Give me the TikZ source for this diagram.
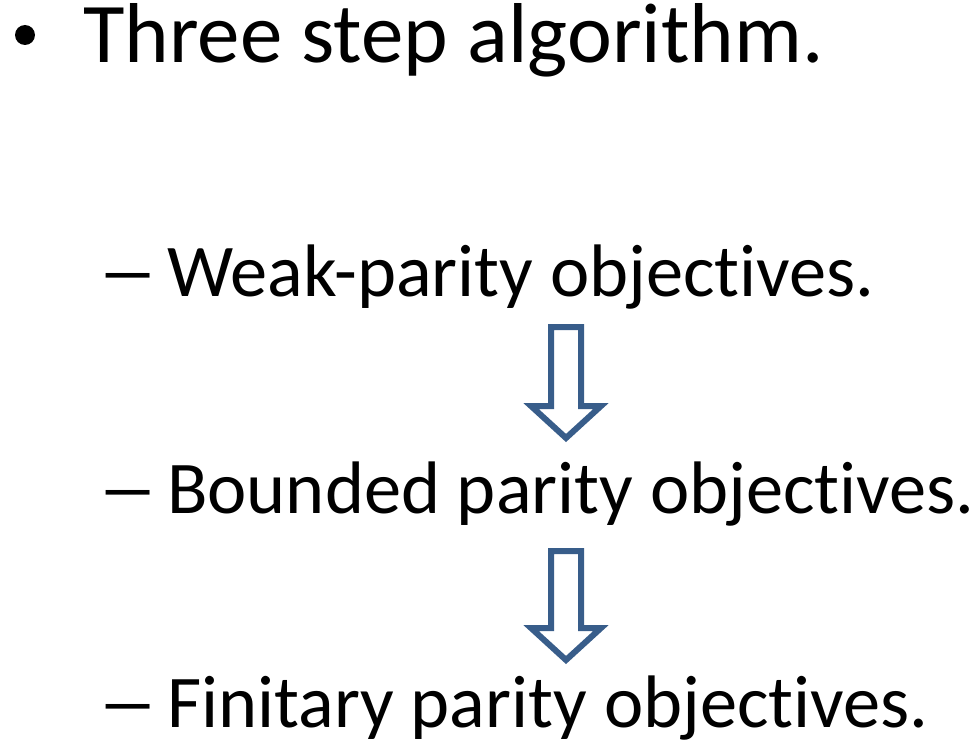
\documentclass[tikz,border=0pt]{standalone}
\usepackage{fontspec}
\setmainfont[Ligatures=NoCommon]{Carlito}
\definecolor{arrowblue}{HTML}{385D8A}
\tikzset{
	title/.style={anchor=base west,inner sep=0pt,font=\fontsize{85}{100}\selectfont},
	item/.style={anchor=base west,inner sep=0pt,font=\fontsize{74.4}{90}\selectfont},
	itemdash/.style={anchor=base west,inner sep=0pt,font=\fontsize{74.4}{90}\selectfont,xscale=1.65},
	bulletdot/.style={circle,fill=black,inner sep=0pt,minimum size=20pt},
	blockarrow/.style={draw=arrowblue,line width=6pt,line join=miter,fill=white}
}
\begin{document}
\begin{tikzpicture}[x=1pt,y=-1pt]
			\useasboundingbox (0,0) rectangle (978,741);
			\def\ax{566}
			\node[bulletdot] (bul) at (25,35) {};
			\node[title] (head) at (83,63) {Three step algorithm.};
			\node[itemdash] (d1) at (97,296) {–};
			\node[item] (weak) at (167,296) {Weak-parity objectives.};
			\node[itemdash] (d2) at (97,513) {–};
			\node[item] (bounded) at (167,513) {Bounded parity objectives.};
			\node[itemdash] (d3) at (97,727) {–};
			\node[item] (finitary) at (167,727) {Finitary parity objectives.};
			\draw[blockarrow] (\ax-15,327)--(\ax+15,327)--(\ax+15,406)--(\ax+35,406)--(\ax,438)--(\ax-35,406)--(\ax-15,406)--cycle; % weak -> bounded
			\draw[blockarrow] (\ax-15,551)--(\ax+15,551)--(\ax+15,628)--(\ax+35,628)--(\ax,660)--(\ax-35,628)--(\ax-15,628)--cycle; % bounded -> finitary
\end{tikzpicture}
\end{document}
